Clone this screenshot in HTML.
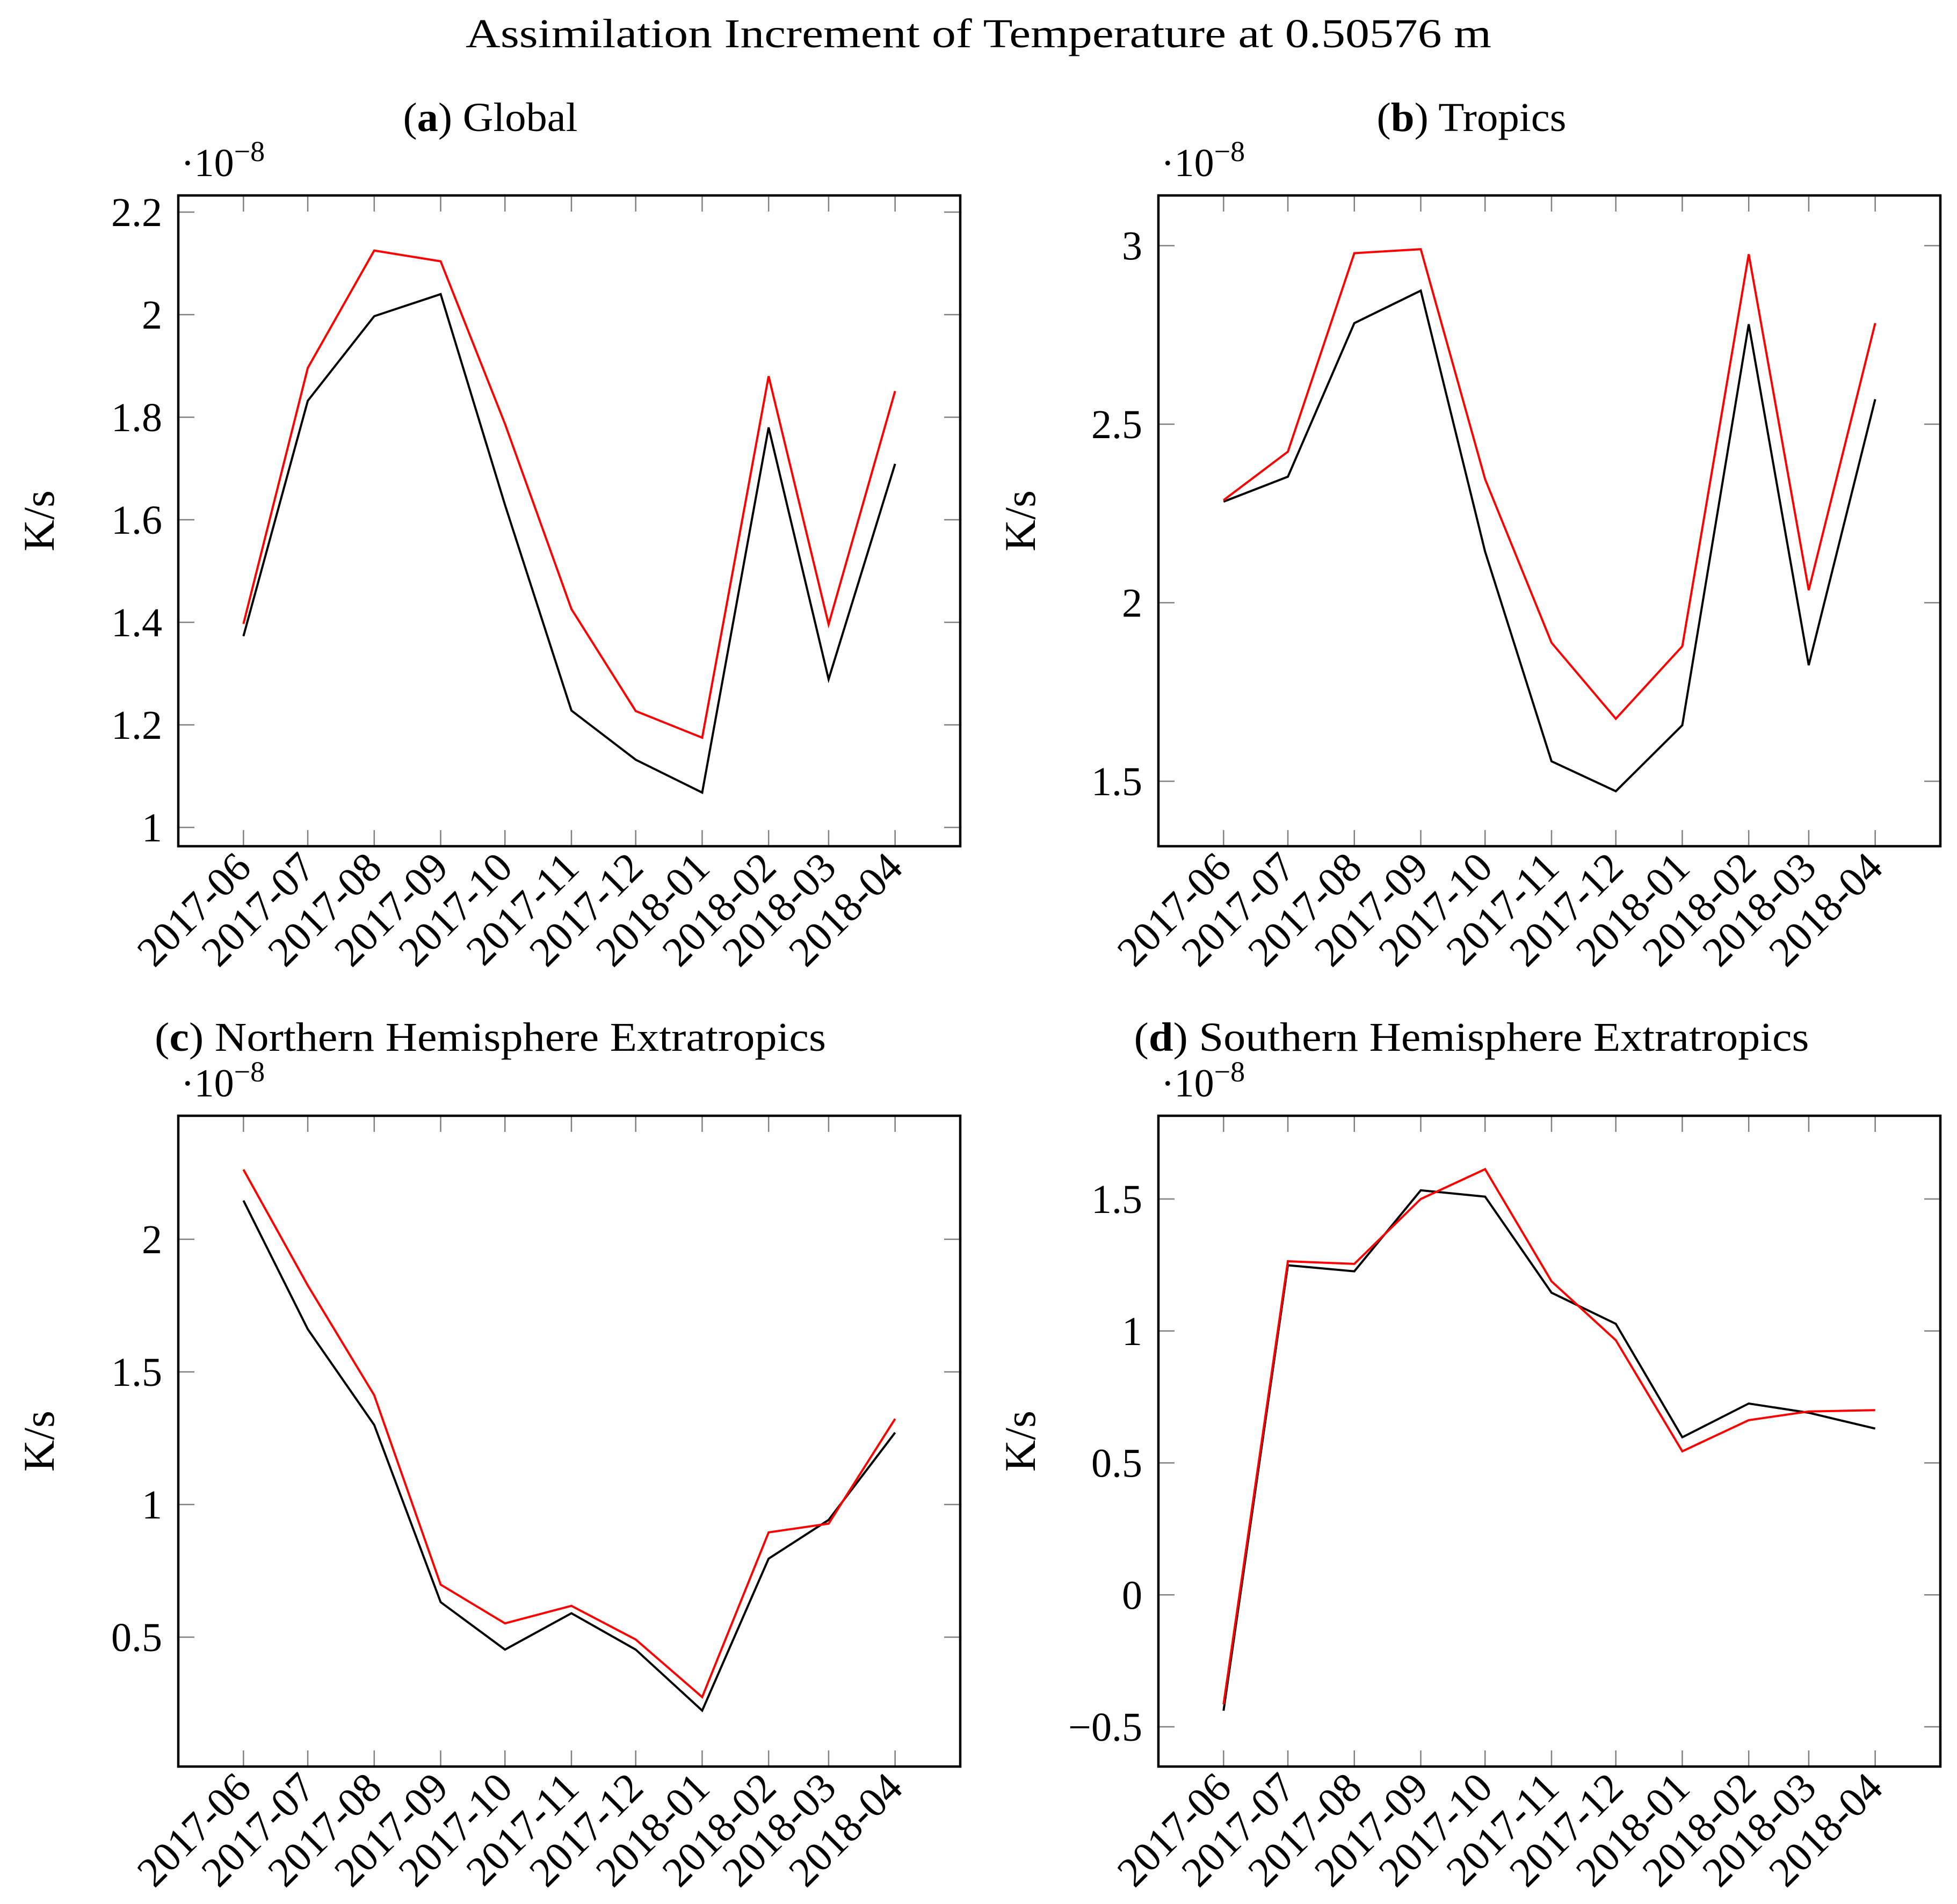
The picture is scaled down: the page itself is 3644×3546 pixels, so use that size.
<!DOCTYPE html>
<html><head><meta charset="utf-8"><style>
html,body{margin:0;padding:0;background:#fff}
svg{display:block}
text{font-family:"Liberation Serif",serif;fill:#000}
</style></head><body>
<svg id="chart" width="3644" height="3546" viewBox="0 0 3644 3546" xmlns="http://www.w3.org/2000/svg">
<text x="1822" y="88" font-size="76" text-anchor="middle" textLength="1910" lengthAdjust="spacingAndGlyphs">Assimilation Increment of Temperature at 0.50576 m</text>
</svg>
<script>
const months = ["2017-06","2017-07","2017-08","2017-09","2017-10","2017-11","2017-12","2018-01","2018-02","2018-03","2018-04"];
const globalBlack = [1.373,1.832,1.997,2.040,1.629,1.228,1.132,1.068,1.780,1.289,1.709];
const globalRed = [1.397,1.896,2.125,2.104,1.787,1.426,1.227,1.175,1.880,1.396,1.851];
const tropicsBlack = [2.283,2.353,2.783,2.874,2.143,1.556,1.472,1.657,2.780,1.825,2.570];
const tropicsRed = [2.287,2.423,2.979,2.990,2.346,1.888,1.675,1.878,2.976,2.035,2.783];
const nhBlack = [2.146,1.661,1.300,0.632,0.453,0.590,0.453,0.223,0.796,0.942,1.271];
const nhRed = [2.263,1.826,1.412,0.698,0.552,0.618,0.491,0.274,0.895,0.928,1.323];
const shBlack = [-0.439,1.249,1.226,1.533,1.509,1.145,1.027,0.597,0.725,0.690,0.630];
const shRed = [-0.415,1.264,1.254,1.500,1.613,1.188,0.965,0.544,0.662,0.695,0.700];
const globalTicks = ["1","1.2","1.4","1.6","1.8","2","2.2"];
const tropicsTicks = ["1.5","2","2.5","3"];
const nhTicks = ["0.5","1","1.5","2"];
const shTicks = ["−0.5","0","0.5","1","1.5"];

const svg = document.getElementById('chart');
const NS = 'http://www.w3.org/2000/svg';
function mk(tag, attrs, parent){
  const e = document.createElementNS(NS, tag);
  for (const k in attrs) e.setAttribute(k, attrs[k]);
  (parent||svg).appendChild(e);
  return e;
}
const t0 = Date.UTC(2017,5,1);
function days(m){ const [y,mo]=m.split('-').map(Number); return (Date.UTC(y,mo-1,1)-t0)/86400000; }
const span = days(months[months.length-1]);
const pad = span*0.1;

const panels = [
  {key:'global', title:'Global', letter:'a', left:332, top:364, cx:913, ty:244, tl:325, black:globalBlack, red:globalRed, ticks:globalTicks, v0:1, p0:1541, ppu:955, ylx:74},
  {key:'tropics', title:'Tropics', letter:'b', left:2157, top:364, cx:2740, ty:244, tl:353, black:tropicsBlack, red:tropicsRed, ticks:tropicsTicks, v0:1.5, p0:1455, ppu:665, ylx:1901},
  {key:'nh', title:'Northern Hemisphere Extratropics', letter:'c', left:332, top:2078, cx:913, ty:1957, tl:1250, black:nhBlack, red:nhRed, ticks:nhTicks, v0:0.5, p0:3049, ppu:494, ylx:74},
  {key:'sh', title:'Southern Hemisphere Extratropics', letter:'d', left:2157, top:2078, cx:2740, ty:1957, tl:1257, black:shBlack, red:shRed, ticks:shTicks, v0:-0.5, p0:3216, ppu:491.5, ylx:1901}
];
const W = 1456, H = 1212;

panels.forEach(p => {
  const g = mk('g', {});
  
  
  const xs = m => p.left + (days(m)+pad)*W/(span+2*pad);
  const ys = v => p.p0 - (v - p.v0)*p.ppu;
  const bottom = p.top + H, right = p.left + W;

  const tt = mk('text', {x:p.cx, y:p.ty, 'font-size':76, 'text-anchor':'middle', textLength:p.tl, lengthAdjust:'spacingAndGlyphs'}, g);
  
  
  tt.innerHTML = '(<tspan font-weight="bold">' + p.letter + '</tspan>) ' + p.title;

  const ex = mk('text', {x:p.left+5, y:p.top-36, 'font-size':74}, g);
  
  
  ex.innerHTML = '·10<tspan font-size="54" dy="-28">−8</tspan>';

  const yl = mk('text', {x:0, y:0, 'font-size':82, 'text-anchor':'middle', transform:'translate(' + (p.ylx+26) + ',' + (p.top+H/2) + ') rotate(-90)'}, g);
  
  
  yl.textContent = 'K/s';

  p.ticks.forEach(lbl => {
    const v = parseFloat(lbl.replace('−','-'));
    const y = ys(v);
    const tl = mk('line', {x1:p.left, x2:p.left+30, y1:y, y2:y, stroke:'#808080', 'stroke-width':2.5}, g);
    
    
    const tr = mk('line', {x1:right-30, x2:right, y1:y, y2:y, stroke:'#808080', 'stroke-width':2.5}, g);
    
    
    const tx = mk('text', {x:p.left-30, y:y+26, 'font-size':76, 'text-anchor':'end'}, g);
    
    
    tx.textContent = lbl;
  });
  months.forEach(m => {
    const x = xs(m);
    const tb = mk('line', {x1:x, x2:x, y1:bottom, y2:bottom-30, stroke:'#808080', 'stroke-width':2.5}, g);
    
    
    const tp = mk('line', {x1:x, x2:x, y1:p.top, y2:p.top+30, stroke:'#808080', 'stroke-width':2.5}, g);
    
    
    const tx = mk('text', {x:0, y:0, 'font-size':78, 'text-anchor':'end', transform:'translate(' + (x+18) + ',' + (bottom+44) + ') rotate(-45)'}, g);
    
    
    tx.textContent = m;
  });
  [['black', p.black, '#000'], ['red', p.red, '#ff0000']].forEach(([nm, arr, col]) => {
    const pts = arr.map((v,i) => xs(months[i]).toFixed(1) + ',' + ys(v).toFixed(1)).join(' ');
    const pl = mk('polyline', {points:pts, fill:'none', stroke:col, 'stroke-width':4, 'stroke-linejoin':'miter'}, g);
    
    
  });
  const fr = mk('rect', {x:p.left, y:p.top, width:W, height:H, fill:'none', stroke:'#000', 'stroke-width':4.5}, g);
  
  
});
</script>
</body></html>
